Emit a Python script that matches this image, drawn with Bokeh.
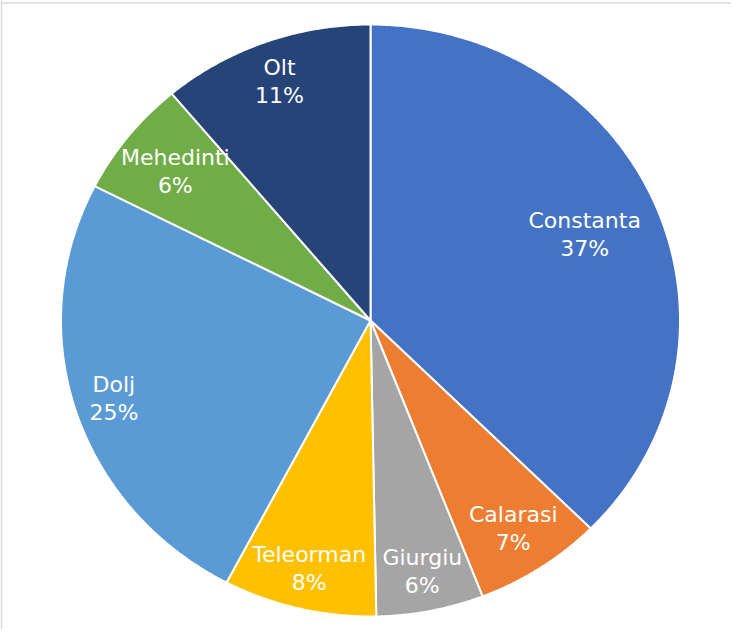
import math
from bokeh.plotting import figure
from bokeh.models import ColumnDataSource, Range1d, Span
from bokeh.core.properties import value
from bokeh.embed import file_html
from bokeh.resources import INLINE

# ---- data ----
counties = ["Constanta", "Calarasi", "Giurgiu", "Teleorman", "Dolj", "Mehedinti", "Olt"]
shares = [37.4, 6.7, 5.6, 8.0, 24.8, 6.4, 11.1]
colors = ["#4472C4", "#ED7D31", "#A5A5A5", "#FFC000", "#5B9BD5", "#70AD47", "#264478"]
# label distance from centre as a fraction of the radius (Excel best-fit placement)
label_r = [0.75, 0.84, 0.865, 0.86, 0.87, 0.806, 0.86]

# ---- geometry (pixels) ----
RX, RY = 309.5, 296.0

total = sum(shares)
xs, ys, lx, ly, names, pcts = [], [], [], [], [], []
cum = 0.0
for name, s, lr in zip(counties, shares, label_r):
    a0 = cum / total * 2 * math.pi
    a1 = (cum + s) / total * 2 * math.pi
    n = max(8, int((a1 - a0) / (2 * math.pi) * 720))
    px = [0.0]
    py = [0.0]
    for i in range(n + 1):
        a = a0 + (a1 - a0) * i / n
        px.append(RX * math.sin(a))
        py.append(RY * math.cos(a))
    xs.append(px)
    ys.append(py)
    mid = (a0 + a1) / 2
    lx.append(RX * lr * math.sin(mid))
    ly.append(RY * lr * math.cos(mid))
    names.append(name)
    pcts.append(f"{round(s / total * 100)}%")
    cum += s

src = ColumnDataSource(dict(xs=xs, ys=ys, color=colors))
lsrc = ColumnDataSource(dict(x=lx, y=ly, name=names, pct=pcts))

p = figure(width=731, height=629, output_backend="svg", toolbar_location=None,
           x_range=Range1d(-370, 361), y_range=Range1d(-309, 320),
           x_axis_location=None, y_axis_location=None,
           min_border=0, min_border_left=0, min_border_right=0,
           min_border_top=0, min_border_bottom=0)
p.grid.visible = False
p.outline_line_color = None
p.background_fill_color = "white"
p.border_fill_color = "white"

p.add_layout(Span(location=-369, dimension="height", line_color="#d9d9d9", line_width=1.5))
p.add_layout(Span(location=317.5, dimension="width", line_color="#d9d9d9", line_width=1.5))

p.patches("xs", "ys", source=src, fill_color="color", line_color="white",
          line_width=2, line_join="round")

font = value("DejaVu Sans")
p.text("x", "y", text="name", source=lsrc, text_color="white", text_font=font,
       text_font_size="22px", text_align="center", text_baseline="middle", y_offset=-14)
p.text("x", "y", text="pct", source=lsrc, text_color="white", text_font=font,
       text_font_size="22px", text_align="center", text_baseline="middle", y_offset=14)

open("out.html", "w").write(file_html(p, INLINE))
